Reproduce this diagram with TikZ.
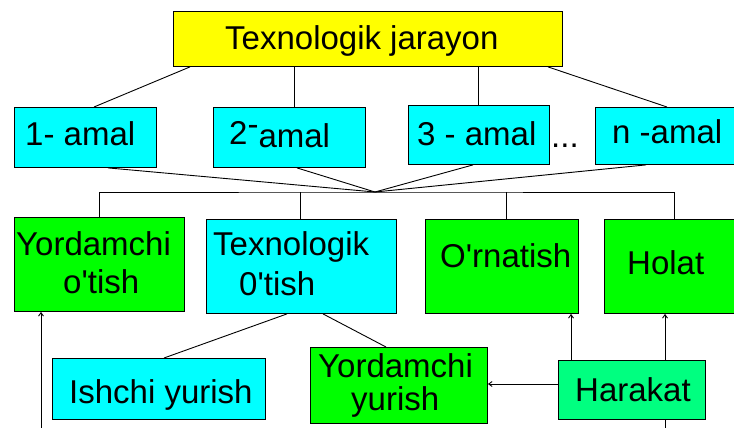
\documentclass[tikz,border=0pt]{standalone}
\usepackage{fontspec}
\setmainfont{Liberation Sans}
\usetikzlibrary{arrows.meta}
\definecolor{cYel}{HTML}{FFFF00}
\definecolor{cCyan}{HTML}{00FFFF}
\definecolor{cGreen}{HTML}{00FF00}
\definecolor{cMint}{HTML}{00FF80}
\tikzset{
  box/.style={draw=black, line width=0.9pt, anchor=north west, inner sep=0pt},
  txt/.style={anchor=base west, inner sep=0pt, font=\fontsize{33}{38}\selectfont},
  conn/.style={draw=black, line width=0.9pt},
  arr/.style={conn, -{Straight Barb[length=3.5pt,width=5pt]}}
}
\begin{document}
\begin{tikzpicture}[x=1pt,y=-1pt]
\useasboundingbox (0,0) rectangle (734,428);
% top
\node[box, fill=cYel, minimum width=389pt, minimum height=55pt] (top) at (173,11) {};
\node[txt] (ttop) at (225,50) {Texnologik jarayon};
% amal row
\node[box, fill=cCyan, minimum width=142pt, minimum height=60pt] (a1) at (14,107) {};
\node[box, fill=cCyan, minimum width=152pt, minimum height=60pt] (a2) at (213,107) {};
\node[box, fill=cCyan, minimum width=141pt, minimum height=59pt] (a3) at (408,105) {};
\node[box, fill=cCyan, minimum width=142pt, minimum height=57pt] (an) at (595,107) {};
\node[txt] (ta1) at (25,145) {1- amal};
\node[txt] (ta2) at (229,147) {\raisebox{3pt}{2\raisebox{9pt}{-}}amal};
\node[txt] (ta3) at (417,145) {3 - amal};
\node[txt] (tan) at (612,143) {n -amal};
\node[txt] (dots) at (551,147) {...};
% second row
\node[box, fill=cGreen, minimum width=170pt, minimum height=94pt] (b1) at (14,217) {};
\node[box, fill=cCyan, minimum width=190pt, minimum height=94pt] (b2) at (206,219) {};
\node[box, fill=cGreen, minimum width=153pt, minimum height=94pt] (b3) at (425,219) {};
\node[box, fill=cGreen, minimum width=134pt, minimum height=94pt] (b4) at (604,219) {};
\node[txt] (tb1a) at (16,255) {Yordamchi};
\node[txt] (tb1b) at (63,293) {o\textquotesingle tish};
\node[txt] (tb2a) at (213,255) {Texnologik};
\node[txt] (tb2b) at (239,295) {0\textquotesingle tish};
\node[txt] (tb3) at (440,267) {O\textquotesingle rnatish};
\node[txt] (tb4) at (627,274) {Holat};
% third row
\node[box, fill=cCyan, minimum width=213pt, minimum height=61pt] (c1) at (52,358) {};
\node[box, fill=cGreen, minimum width=177pt, minimum height=76pt] (c2) at (310,347) {};
\node[box, fill=cMint, minimum width=147pt, minimum height=59pt] (c3) at (558,360) {};
\node[txt] (tc1) at (69,403) {Ishchi yurish};
\node[txt] (tc2a) at (318,377) {Yordamchi};
\node[txt] (tc2b) at (351,410) {yurish};
\node[txt] (tc3) at (575,401) {Harakat};
% connectors top
\draw[conn] (top.south -| 190,0) -- (a1.north -| 94,0);
\draw[conn] (top.south -| 294,0) -- (a2.north -| 294,0);
\draw[conn] (top.south -| 478,0) -- (a3.north -| 478,0);
\draw[conn] (top.south -| 548,0) -- (an.north -| 667,0);
% hub
\coordinate (hub) at (375,192);
\draw[conn] (a1.south -| 108,0) -- (hub);
\draw[conn] (a2.south -| 297,0) -- (hub);
\draw[conn] (a3.south -| 473,0) -- (hub);
\draw[conn] (an.south -| 646,0) -- (hub);
\draw[conn] (b1.north -| 99,0) |- (hub) -| (b4.north -| 674,0);
\draw[conn] (b2.north -| 300,0) -- (hub -| 300,0);
\draw[conn] (b3.north -| 506,0) -- (hub -| 506,0);
% lower
\draw[conn] (b2.south -| 287,0) -- (c1.north -| 164,0);
\draw[conn] (b2.south -| 323,0) -- (c2.north -| 386,0);
\draw[arr] (c3.west |- 0,384) -- (c2.east |- 0,384);
\draw[arr] (c3.north -| 571,0) -- (b3.south -| 571,0);
\draw[arr] (c3.north -| 665,0) -- (b4.south -| 665,0);
\coordinate (hb) at (665,430);
\draw[conn] (c3.south -| 665,0) -- (hb);
\coordinate (lb) at (41,430);
\draw[arr] (lb) -- (b1.south -| 41,0);
\end{tikzpicture}
\end{document}
